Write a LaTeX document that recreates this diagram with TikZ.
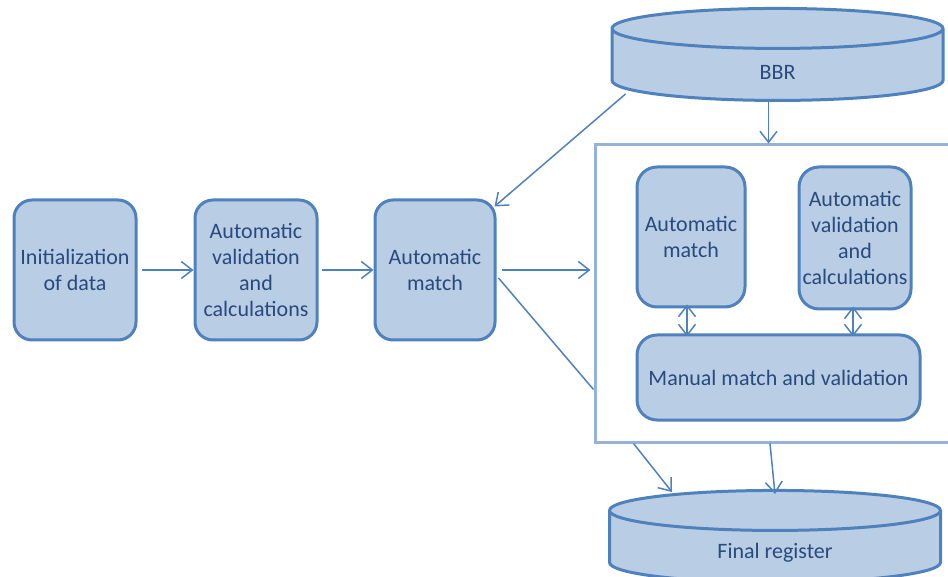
\documentclass[tikz,border=0pt]{standalone}
\usepackage{fontspec}
\setmainfont{Carlito}
\usetikzlibrary{shapes.geometric,arrows.meta,calc}
\definecolor{bleufond}{HTML}{B9CDE5}
\definecolor{bleutrait}{HTML}{4F81BD}
\definecolor{bleucadre}{HTML}{95B3D7}
\definecolor{bleutexte}{HTML}{284A7C}
\begin{document}
\begin{tikzpicture}[x=0.5pt,y=-0.5pt]
	\tikzstyle{boite}=[draw=bleutrait,fill=bleufond,line width=1.5pt,rounded corners=9pt,align=center,text=bleutexte,inner sep=1pt,font=\fontsize{11}{13}\selectfont]
	\tikzstyle{disque}=[draw=bleutrait,fill=bleufond,line width=1.5pt,cylinder,shape border rotate=90,aspect=3,minimum width=165.5pt,minimum height=46pt]
	\tikzstyle{texte}=[text=bleutexte,font=\fontsize{11}{13}\selectfont]
	\tikzstyle{cadre}=[draw=bleucadre,line width=1.5pt,minimum width=185pt,minimum height=148.5pt]
	\tikzstyle{fleche}=[->,>={Straight Barb[length=5.5pt,width=8.5pt]},draw=bleutrait,line width=0.75pt]
	\tikzstyle{doublefleche}=[fleche,<->,shorten <=-2pt,shorten >=-1.5pt]
	\tikzstyle{trait}=[draw=bleutrait,line width=0.75pt]
	\def\LigneEtapes{270}
	\useasboundingbox (0,0) rectangle (948,577);
	% chaine principale
	\node[boite,minimum width=61pt,minimum height=70pt] (init) at (75,\LigneEtapes) {Initialization\\of data};
	\node[boite,minimum width=61pt,minimum height=70pt] (valid) at (256,\LigneEtapes) {Automatic\\validation\\and\\calculations};
	\node[boite,minimum width=60pt,minimum height=70pt] (match) at (435,\LigneEtapes) {Automatic\\match};
	% bases de donnees
	\node[disque] (bbr) at (777.5,68) {};
	\node[texte] (bbrtxt) at (777.5,72) {BBR};
	\node[disque] (final) at (775,550) {};
	\node[texte] (finaltxt) at (775,553) {Final register};
	% cadre de droite
	\node[cadre] (zone) at (780,293.5) {};
	\node[boite,rounded corners=10pt,minimum width=54pt,minimum height=70pt] (amatch) at (691,237) {Automatic\\match};
	\node[boite,rounded corners=10pt,minimum width=56pt,minimum height=71pt] (avalid) at (855,238) {Automatic\\validation\\and\\calculations};
	\node[boite,rounded corners=10pt,minimum width=141.5pt,minimum height=42.5pt] (manuel) at (778.5,377.5) {Manual match and validation};
	% fleches
	\draw[fleche,shorten <=2pt] (init) -- (valid);
	\draw[fleche,shorten <=1.5pt] (valid) -- (match);
	\draw[fleche,shorten <=2.5pt,shorten >=1.5pt] (match.east) -- (match.east -| zone.west);
	\draw[trait] ($(match.east)+(2,8)$) -- ($(zone.west)+(0,96)$);
	\draw[fleche] ($(bbr.center)+(-152,26)$) -- ($(match.north east)+(-2,8)$);
	\coordinate (bbrbas) at ($(bbr.center)+(-9,32)$);
	\draw[fleche] (bbrbas) -- (bbrbas |- zone.north);
	\draw[doublefleche] ($(amatch.south)+(-4,0)$) -- ($(amatch.south |- manuel.north)+(-4,0)$);
	\draw[doublefleche] ($(avalid.south)+(-2,0)$) -- ($(avalid.south |- manuel.north)+(-2,0)$);
	\draw[fleche] ($(zone.south west)+(40,0)$) -- ($(final.center)+(-103,-58)$);
	\draw[fleche] ($(zone.south)+(-10,0)$) -- ($(final.center)+(0,-56)$);
\end{tikzpicture}
\end{document}
